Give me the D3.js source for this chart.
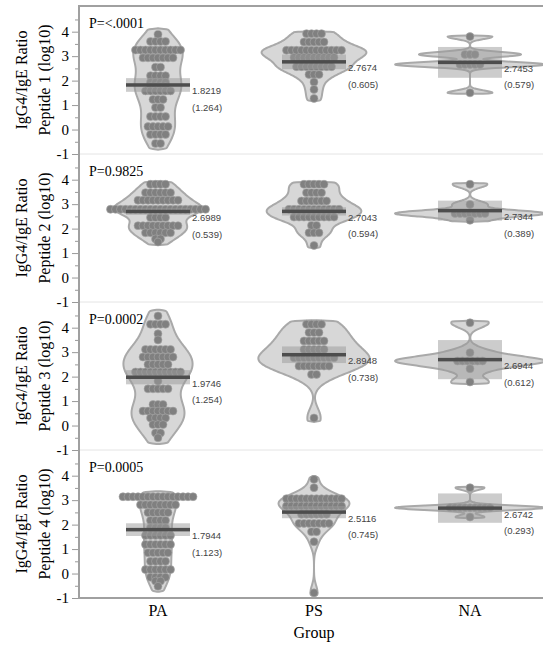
<!DOCTYPE html>
<html>
<head>
<meta charset="utf-8">
<script src="https://cdn.jsdelivr.net/npm/d3@7"></script>
<style>
body { margin: 0; background: #fff; }
text { font-family: "Liberation Serif", "Times New Roman", serif; }
</style>
</head>
<body>
<svg id="chart" width="543" height="650"></svg>
<script>
var groups = ["PA", "PS", "NA"];
var peptides = ["Peptide 1 (log10)", "Peptide 2 (log10)", "Peptide 3 (log10)", "Peptide 4 (log10)"];
var pValues = ["P=<.0001", "P=0.9825", "P=0.0002", "P=0.0005"];
var means = [[1.8219, 2.7674, 2.7453], [2.6989, 2.7043, 2.7344], [1.9746, 2.8948, 2.6944], [1.7944, 2.5116, 2.6742]];
var sds = [["1.264", "0.605", "0.579"], ["0.539", "0.594", "0.389"], ["1.254", "0.738", "0.612"], ["1.123", "0.745", "0.293"]];
// half width of the mean interval boxes
var ciHalf = [[0.28, 0.30, 0.63], [0.14, 0.17, 0.41], [0.29, 0.34, 0.80], [0.26, 0.25, 0.60]];
var yTicks = [-1, 0, 1, 2, 3, 4];
var yMinor = [-0.5, 0.5, 1.5, 2.5, 3.5, 4.5];

// dot rows: [value, number of dots]
var p1PA = [[3.89, 1], [3.6, 4], [3.25, 10], [2.93, 7], [2.55, 2], [2.2, 4], [1.93, 4], [1.75, 4], [1.58, 6], [1.23, 3], [0.9, 2], [0.53, 4], [0.12, 5], [-0.2, 4], [-0.57, 2]];
var p1PS = [[3.92, 4], [3.58, 5], [3.24, 12], [2.94, 9], [2.57, 8], [2.25, 3], [1.94, 1], [1.64, 1], [1.27, 1]];
var p1NA = [[3.8, 1], [3.07, 3], [2.66, 5], [1.5, 1]];
var p2PA = [[3.81, 4], [3.47, 6], [3.16, 9], [2.79, 20], [2.45, 4], [2.12, 9], [1.83, 6], [1.58, 2], [1.45, 1]];
var p2PS = [[3.81, 5], [3.47, 4], [3.13, 6], [2.79, 11], [2.47, 9], [2.13, 2], [1.83, 3], [1.31, 1]];
var p2NA = [[3.81, 1], [2.99, 1], [2.62, 7], [2.34, 1]];
var p3PA = [[4.48, 1], [4.14, 4], [3.75, 1], [3.5, 1], [3.11, 6], [2.8, 7], [2.5, 5], [2.19, 10], [1.82, 1], [1.5, 5], [0.86, 3], [0.59, 7], [0.31, 4], [0.04, 3], [-0.3, 2], [-0.5, 1]];
var p3PS = [[4.14, 4], [3.8, 3], [3.46, 5], [3.11, 5], [2.77, 9], [2.43, 7], [2.09, 2], [0.31, 1]];
var p3NA = [[4.2, 1], [2.98, 1], [2.64, 6], [2.32, 1], [1.78, 1]];
var p4PA = [[3.14, 15], [2.81, 8], [2.49, 5], [2.17, 4], [1.87, 4], [1.56, 6], [1.19, 6], [0.85, 5], [0.5, 4], [0.16, 6], [-0.15, 4], [-0.31, 2], [-0.52, 1]];
var p4PS = [[3.85, 1], [3.51, 1], [3.06, 12], [2.76, 12], [2.42, 6], [2.05, 7], [1.71, 2], [1.3, 1], [-0.79, 1]];
var p4NA = [[3.51, 1], [2.69, 9], [2.31, 1]];

var rowsByPanel = [[p1PA, p1PS, p1NA], [p2PA, p2PS, p2NA], [p3PA, p3PS, p3NA], [p4PA, p4PS, p4NA]];

var plotLeft = 80, plotRight = 548, plotTop = 6, panelH = 148;
var bwFactor = [1, 1, 0.5];   // the small NA group gets a tighter kernel
var svg = d3.select("#chart");

var x = d3.scaleBand().domain(groups).range([plotLeft, plotRight]);
var y = d3.scaleLinear().domain([-1, 5.05]).range([panelH, 0]);

svg.append("defs").append("clipPath").attr("id", "plotclip")
  .append("rect").attr("x", plotLeft).attr("y", 0).attr("width", plotRight - plotLeft).attr("height", panelH);

function expand(rows) {
  var out = [];
  rows.forEach(function(r) { for (var i = 0; i < r[1]; i++) out.push(r[0]); });
  return out.sort(d3.ascending);
}

function bandwidth(vals) {
  var sd = d3.deviation(vals), iqr = d3.quantile(vals, 0.75) - d3.quantile(vals, 0.25);
  var s = iqr > 0 ? Math.min(sd, iqr / 1.34) : sd;
  return 0.9 * s * Math.pow(vals.length, -0.2);
}

function density(vals, bw, t) {
  return d3.mean(vals, function(v) { var u = (t - v) / bw; return Math.exp(-0.5 * u * u); }) / (bw * Math.sqrt(2 * Math.PI));
}

rowsByPanel.forEach(function(panelRows, pi) {
  var g = svg.append("g").attr("transform", "translate(0," + (plotTop + pi * panelH) + ")");

  // separator
  if (pi > 0) {
    g.append("line").attr("x1", plotLeft).attr("x2", plotRight).attr("y1", 0).attr("y2", 0)
      .attr("stroke", "#e4e4e4").attr("stroke-width", 1);
  }

  var plot = g.append("g").attr("clip-path", "url(#plotclip)");

  // violins: the shape uses the group's kernel, the width keeps the plain-kernel peak
  var curves = panelRows.map(function(rows, gi) {
    var vals = expand(rows), bw0 = bandwidth(vals), bw = bw0 * bwFactor[gi];
    var lo = vals[0] - 0.5 * bw, hi = vals[vals.length - 1] + 0.5 * bw;
    var pts = d3.range(0, 121).map(function(i) {
      var t = lo + (hi - lo) * i / 120;
      return { t: t, d: density(vals, bw, t), d0: density(vals, bw0, t) };
    });
    var peak = d3.max(pts, function(p) { return p.d; }), peak0 = d3.max(pts, function(p) { return p.d0; });
    pts.forEach(function(p) { p.d = p.d * peak0 / peak; });
    pts[0].d = 0; pts[pts.length - 1].d = 0;
    return pts;
  });
  var maxD = d3.max(curves, function(c) { return d3.max(c, function(p) { return p.d; }); });
  var wScale = d3.scalePow().exponent(0.75).domain([0, maxD]).range([0, 75]);

  curves.forEach(function(pts, gi) {
    var cx = x(groups[gi]) + x.bandwidth() / 2;
    var area = d3.area()
      .y(function(p) { return y(p.t); })
      .x0(function(p) { return cx - wScale(p.d); })
      .x1(function(p) { return cx + wScale(p.d); })
      .curve(d3.curveBasis);
    plot.append("path").datum(pts).attr("d", area)
      .attr("fill", "#d7d7d7").attr("stroke", "#a9a9a9").attr("stroke-width", 2);
  });

  // dots
  panelRows.forEach(function(rows, gi) {
    var cx = x(groups[gi]) + x.bandwidth() / 2;
    rows.forEach(function(r) {
      for (var i = 0; i < r[1]; i++) {
        plot.append("circle")
          .attr("cx", cx + (i - (r[1] - 1) / 2) * 5)
          .attr("cy", y(r[0]))
          .attr("r", 4)
          .attr("fill", "#808080")
          .attr("stroke", "#a8a8a8").attr("stroke-width", 0.6);
      }
    });
  });

  // mean interval box, mean line and labels
  groups.forEach(function(grp, gi) {
    var cx = x(grp) + x.bandwidth() / 2, m = means[pi][gi], h = ciHalf[pi][gi];
    plot.append("rect")
      .attr("x", cx - 32).attr("width", 64)
      .attr("y", y(m + h)).attr("height", y(m - h) - y(m + h))
      .attr("fill", "#999").attr("opacity", 0.5);
    plot.append("rect")
      .attr("x", cx - 32).attr("width", 64)
      .attr("y", y(m) - 1.75).attr("height", 3.5)
      .attr("fill", "#4d4d4d");
    g.append("text").attr("x", cx + 34).attr("y", y(m) + 9.5)
      .style("font-family", "'Liberation Sans', Arial, sans-serif")
      .style("font-size", "9.5px").attr("fill", "#444")
      .text(m.toFixed(4));
    g.append("text").attr("x", cx + 34).attr("y", y(m) + 26)
      .style("font-family", "'Liberation Sans', Arial, sans-serif")
      .style("font-size", "9.5px").attr("fill", "#444")
      .text("(" + sds[pi][gi] + ")");
  });

  // p-value
  g.append("text").attr("x", 89).attr("y", 22).style("font-size", "14px").text(pValues[pi]);

  // y axis
  var ax = g.append("g").attr("transform", "translate(" + (plotLeft - 1) + ",0)")
    .call(d3.axisLeft(y).tickValues(yTicks).tickSize(7).tickPadding(3).tickFormat(function(d) { return String(d); }));
  ax.select(".domain").remove();
  ax.selectAll(".tick line").attr("stroke", "#999");
  ax.selectAll(".tick text").style("font-family", "'Liberation Serif', serif").style("font-size", "15px").attr("fill", "#000");
  var axm = g.append("g").attr("transform", "translate(" + (plotLeft - 1) + ",0)")
    .call(d3.axisLeft(y).tickValues(yMinor).tickSize(4).tickFormat(""));
  axm.select(".domain").remove();
  axm.selectAll(".tick line").attr("stroke", "#999");

  // y title
  g.append("text").attr("transform", "translate(27," + (panelH / 2) + ") rotate(-90)")
    .attr("text-anchor", "middle").style("font-size", "16px").text("IgG4/IgE Ratio");
  g.append("text").attr("transform", "translate(50," + (panelH / 2) + ") rotate(-90)")
    .attr("text-anchor", "middle").style("font-size", "16px").text(peptides[pi]);
});

var plotBottom = plotTop + 4 * panelH;
// frame
svg.append("line").attr("x1", plotLeft - 1).attr("x2", plotLeft - 1).attr("y1", plotTop - 1).attr("y2", plotBottom + 1)
  .attr("stroke", "#a0a0a0").attr("stroke-width", 2);
svg.append("line").attr("x1", plotLeft - 2).attr("x2", plotRight).attr("y1", plotTop).attr("y2", plotTop)
  .attr("stroke", "#a0a0a0").attr("stroke-width", 2);
svg.append("line").attr("x1", plotLeft - 2).attr("x2", plotRight).attr("y1", plotBottom).attr("y2", plotBottom)
  .attr("stroke", "#a0a0a0").attr("stroke-width", 2);

// x axis labels
svg.append("g").selectAll("text").data(groups).enter().append("text")
  .attr("x", function(d) { return x(d) + x.bandwidth() / 2; })
  .attr("y", 616).attr("text-anchor", "middle").style("font-size", "16px")
  .text(function(d) { return d; });
svg.append("text").attr("x", x("PS") + x.bandwidth() / 2).attr("y", 638)
  .attr("text-anchor", "middle").style("font-size", "16px").text("Group");
</script>
</body>
</html>
